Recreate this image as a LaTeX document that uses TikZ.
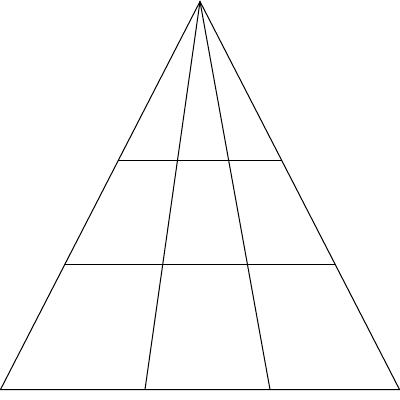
\documentclass[tikz,border=0pt]{standalone}
\usetikzlibrary{calc}

\begin{document}
\begin{tikzpicture}[x=0.75pt,y=0.75pt,yscale=-1,xscale=1]
        \useasboundingbox (0,0) rectangle (400,400);
        
        \coordinate (A) at (200,1.5);
        \coordinate (L) at (0.5,389.5);
        \coordinate (M1) at (145,389.5);
        \coordinate (M2) at (270,389.5);
        \coordinate (R) at (399.5,389.5);
        
        %Shape: Triangle
        \draw [line width=0.75]  (A) -- (R) -- (L) -- cycle ;
        %Straight Lines
        \draw [line width=0.75]   (A) -- (M1) ;
        %Straight Lines
        \draw [line width=0.75]   (A) -- (M2) ;
        %Straight Lines
        \draw [line width=0.75]   ($(A)!0.411!(L)$) -- ($(A)!0.411!(R)$) ;
        %Straight Lines
        \draw [line width=0.75]   ($(A)!0.679!(L)$) -- ($(A)!0.679!(R)$) ;
        
\end{tikzpicture}
\end{document}
